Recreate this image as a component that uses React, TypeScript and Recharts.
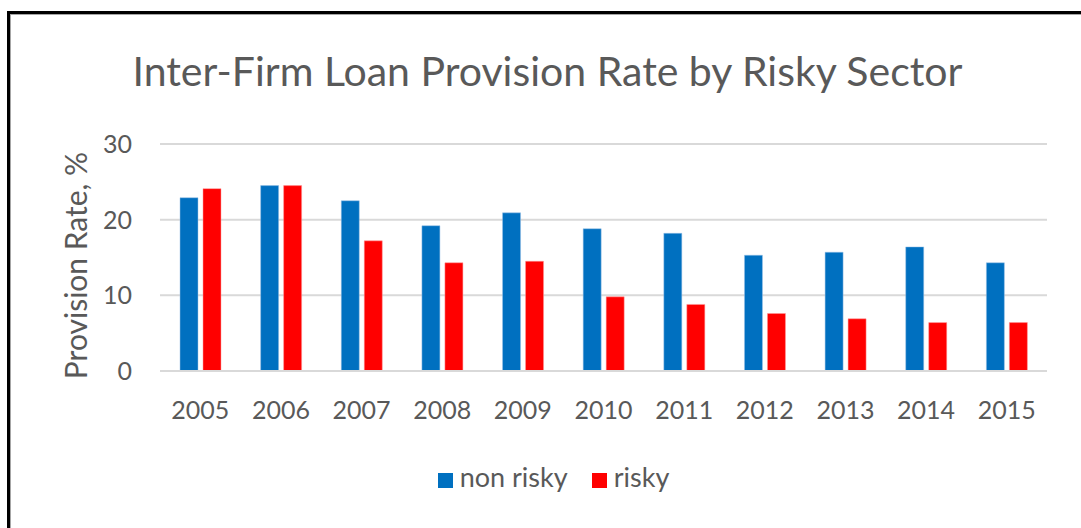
import React from 'react';
import { BarChart, Bar, XAxis, YAxis, CartesianGrid, Legend } from 'recharts';

const YEARS = ['2005', '2006', '2007', '2008', '2009', '2010', '2011', '2012', '2013', '2014', '2015'];
const NON_RISKY = [22.9, 24.5, 22.5, 19.2, 20.9, 18.8, 18.2, 15.3, 15.7, 16.4, 14.3];
const RISKY = [24.1, 24.5, 17.2, 14.3, 14.5, 9.8, 8.8, 7.6, 6.9, 6.4, 6.4];
const Y_TICKS = [0, 10, 20, 30];

const FONT = 'Lato, "Open Sans", sans-serif';
const TEXT = '#595959';

const data = YEARS.map((year, i) => ({
  year,
  nonRisky: NON_RISKY[i],
  risky: RISKY[i],
}));

export default function App() {
  return (
    <div style={{ position: 'absolute', left: 0, top: 0, width: 1081, height: 528, overflow: 'hidden', background: '#fff', fontFamily: FONT }}>
      {/* frame, only top + left visible like the screenshot */}
      <div
        style={{
          position: 'absolute',
          left: 7,
          top: 11,
          width: 1200,
          height: 700,
          borderTop: '3px solid #000',
          borderLeft: '3px solid #000',
          boxShadow: 'inset 1px 1px 0 #a6a6a6',
        }}
      />
      <div
        style={{
          position: 'absolute',
          left: 0,
          top: 46,
          width: 1095,
          textAlign: 'center',
          fontSize: 41,
          color: TEXT,
          whiteSpace: 'nowrap',
        }}
      >
        Inter-Firm Loan Provision Rate by Risky Sector
      </div>
      <div style={{ position: 'absolute', left: 0, top: 0 }}>
        <BarChart
          width={1081}
          height={528}
          data={data}
          margin={{ top: 144, right: 34, left: 0, bottom: 64 }}
          barSize={18}
          barGap={5}
        >
          <CartesianGrid vertical={false} stroke="#d9d9d9" strokeWidth={2} />
          <XAxis
            dataKey="year"
            axisLine={{ stroke: '#d9d9d9', strokeWidth: 2 }}
            tickLine={false}
            tickSize={0}
            tickMargin={30}
            height={60}
            tick={{ fill: TEXT, fontSize: 25, fontFamily: FONT }}
          />
          <YAxis
            domain={[0, 30]}
            ticks={Y_TICKS}
            width={160}
            axisLine={false}
            tickLine={false}
            tickSize={0}
            tickMargin={28}
            tick={{ fill: TEXT, fontSize: 25, fontFamily: FONT }}
            label={{
              value: 'Provision Rate, %',
              angle: -90,
              position: 'center',
              dx: -4,
              dy: 8,
              style: { fill: TEXT, fontSize: 30, fontFamily: FONT, textAnchor: 'middle' },
            }}
          />
          <Legend
            verticalAlign="bottom"
            align="center"
            iconType="square"
            iconSize={15}
            wrapperStyle={{ top: 460, left: 25, width: 1081, fontFamily: FONT, fontSize: 27 }}
            formatter={(value: string) => (
              <span style={{ color: TEXT, marginLeft: 3, marginRight: 14 }}>{value}</span>
            )}
          />
          <Bar dataKey="nonRisky" name="non risky" fill="#0070C0" stroke="#9dc3e6" strokeWidth={0.5} isAnimationActive={false} />
          <Bar dataKey="risky" name="risky" fill="#FF0000" stroke="#ff9b9b" strokeWidth={0.5} isAnimationActive={false} />
        </BarChart>
      </div>
    </div>
  );
}
